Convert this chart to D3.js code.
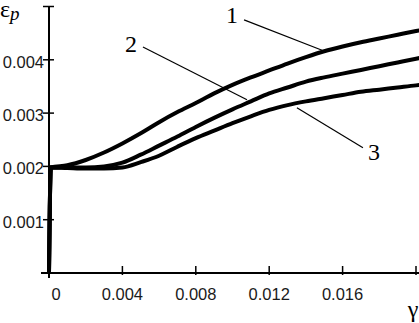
<!DOCTYPE html>
<html>
<head>
<meta charset="utf-8">
<script src="https://cdn.jsdelivr.net/npm/d3@7"></script>
<style>
  body { margin: 0; background: #fff; }
  svg { display: block; }
</style>
</head>
<body>
<div id="chart"></div>
<script>
let width = 419,
    height = 323;

// gamma values (x) shared by all curves
let gammas = [0, 0.0001, 0.001, 0.002, 0.003, 0.004, 0.005, 0.006, 0.007, 0.008, 0.009, 0.010,
              0.011, 0.012, 0.013, 0.014, 0.015, 0.016, 0.017, 0.018, 0.019, 0.020, 0.0203];

// epsilon_p for curves 1, 2, 3
let curve1 = [0, 0.00198, 0.00202, 0.00212, 0.00226, 0.00243, 0.00262, 0.00283, 0.00302, 0.00319,
              0.00337, 0.00353, 0.00367, 0.00380, 0.00393, 0.00405, 0.00416, 0.00425, 0.00433,
              0.00440, 0.00447, 0.00454, 0.00456];
let curve2 = [0, 0.00198, 0.00198, 0.00198, 0.00200, 0.00207, 0.00222, 0.00239, 0.00256, 0.00274,
              0.00291, 0.00307, 0.00322, 0.00337, 0.00348, 0.00359, 0.00367, 0.00374, 0.00381,
              0.00388, 0.00395, 0.00402, 0.00404];
let curve3 = [0, 0.00198, 0.00197, 0.00196, 0.00196, 0.00198, 0.00208, 0.00220, 0.00237, 0.00253,
              0.00267, 0.00281, 0.00294, 0.00306, 0.00315, 0.00322, 0.00328, 0.00334, 0.00340,
              0.00344, 0.00348, 0.00352, 0.00353];

let xTicks = [0, 0.004, 0.008, 0.012, 0.016, 0.020];
let xTickLabels = ["0", "0.004", "0.008", "0.012", "0.016", ""];
let yTicks = [0.001, 0.002, 0.003, 0.004, 0.005];
let yTickLabels = ["0.001", "0.002", "0.003", "0.004", ""];

// curve number labels and leader lines, in data units
let curveNames = ["1", "2", "3"];
let labelPos = [[0.00997, 0.00469], [0.00447, 0.00415], [0.01771, 0.00212]];
let leaders = [
    [[0.01063, 0.00475], [0.01488, 0.00418]],
    [[0.00512, 0.00424], [0.01079, 0.00325]],
    [[0.01351, 0.00310], [0.01711, 0.00235]]
];

let x = d3.scaleLinear().domain([0, 0.02]).range([49, 416]);
let y = d3.scaleLinear().domain([0, 0.005]).range([273, 6.5]);

let svg = d3.select("#chart")
    .append("svg")
    .attr("width", width)
    .attr("height", height);

// curves
let line = d3.line()
    .x(d => x(d[0]))
    .y(d => y(d[1]))
    .curve(d3.curveMonotoneX);

svg.append("clipPath").attr("id", "clip")
    .append("rect").attr("x", 0).attr("y", 0).attr("width", width).attr("height", 278);

[curve1, curve2, curve3].forEach(function (c) {
    svg.append("path")
        .datum(gammas.map((g, i) => [g, c[i]]))
        .attr("clip-path", "url(#clip)")
        .attr("fill", "none")
        .attr("stroke", "#000")
        .attr("stroke-width", 4)
        .attr("stroke-linejoin", "round")
        .attr("d", line);
});

// axes
svg.append("line")
    .attr("x1", 41).attr("x2", 419)
    .attr("y1", y(0)).attr("y2", y(0))
    .style("stroke", "#000").style("stroke-width", 2);

svg.append("line")
    .attr("x1", x(0)).attr("x2", x(0))
    .attr("y1", y(0.005)).attr("y2", y(0) + 5)
    .style("stroke", "#000").style("stroke-width", 2);

svg.selectAll(".xtick")
    .data(xTicks)
    .enter().append("line")
    .attr("x1", d => x(d)).attr("x2", d => x(d))
    .attr("y1", y(0) - 7).attr("y2", y(0) + 2)
    .style("stroke", "#000").style("stroke-width", 1.5);

svg.selectAll(".xlabel")
    .data(xTicks)
    .enter().append("text")
    .attr("x", (d, i) => x(d) + (d === 0 ? 7 : 0))
    .attr("y", 300)
    .attr("text-anchor", "middle")
    .style("font-family", "'Liberation Sans', Arial, sans-serif")
    .style("font-size", "16.5px")
    .style("fill", "#1a1a1a")
    .text((d, i) => xTickLabels[i]);

svg.selectAll(".ytick")
    .data(yTicks)
    .enter().append("line")
    .attr("x1", x(0) - 6).attr("x2", x(0) + 5)
    .attr("y1", d => y(d)).attr("y2", d => y(d))
    .style("stroke", "#000").style("stroke-width", 1.5);

svg.selectAll(".ylabel")
    .data(yTicks)
    .enter().append("text")
    .attr("x", 44)
    .attr("y", d => y(d) + 8)
    .attr("text-anchor", "end")
    .style("font-family", "'Liberation Sans', Arial, sans-serif")
    .style("font-size", "16.5px")
    .style("fill", "#1a1a1a")
    .text((d, i) => yTickLabels[i]);

// axis titles
let eps = svg.append("text")
    .attr("x", 0).attr("y", 17)
    .style("font-family", "'Liberation Serif', 'Times New Roman', serif")
    .style("font-size", "24px")
    .text("ε");
eps.append("tspan")
    .attr("dy", 3)
    .style("font-style", "italic")
    .style("font-size", "19px")
    .text("p");

svg.append("text")
    .attr("x", 413).attr("y", 317)
    .attr("text-anchor", "middle")
    .style("font-family", "'Liberation Serif', 'Times New Roman', serif")
    .style("font-size", "24px")
    .text("γ");

// leader lines and curve numbers
svg.selectAll(".leader")
    .data(leaders)
    .enter().append("line")
    .attr("x1", d => x(d[0][0])).attr("y1", d => y(d[0][1]))
    .attr("x2", d => x(d[1][0])).attr("y2", d => y(d[1][1]))
    .style("stroke", "#000").style("stroke-width", 1.2);

svg.selectAll(".cname")
    .data(curveNames)
    .enter().append("text")
    .attr("x", (d, i) => x(labelPos[i][0]))
    .attr("y", (d, i) => y(labelPos[i][1]))
    .attr("text-anchor", "middle")
    .style("font-family", "'Liberation Serif', 'Times New Roman', serif")
    .style("font-size", "24px")
    .text(d => d);
</script>
</body>
</html>
